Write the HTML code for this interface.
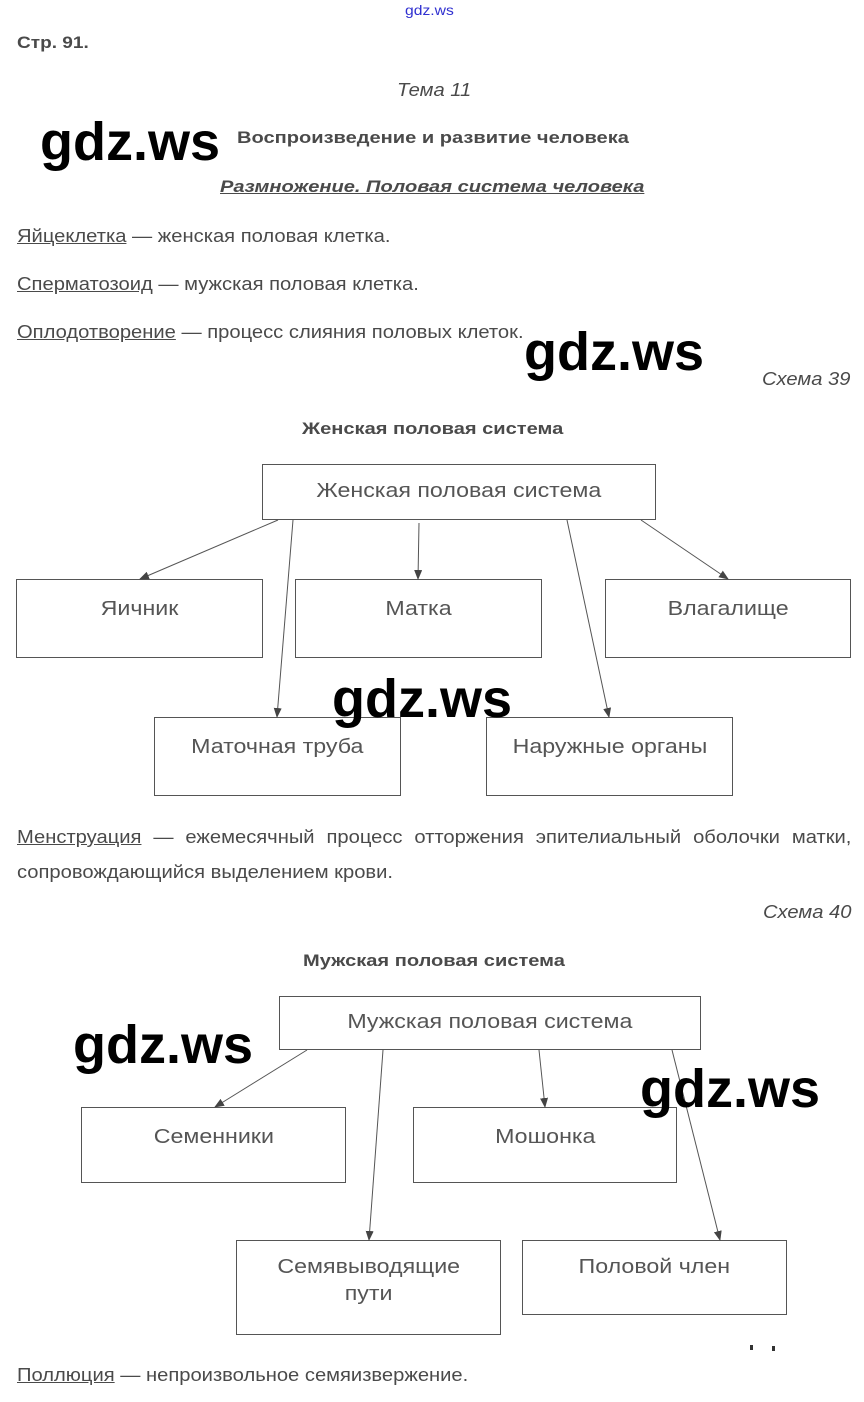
<!DOCTYPE html>
<html><head><meta charset="utf-8"><style>
body{margin:0;width:864px;height:1402px;background:#fff;position:relative;font-family:"Liberation Sans",sans-serif;color:#4a4a4a;overflow:hidden}
.t{position:absolute;white-space:nowrap;font-size:18px;transform:scaleX(1.12);transform-origin:0 0}
.b{transform:scaleX(1.18)}
u{text-decoration:underline}
.wm{position:absolute;font-family:"Liberation Sans",sans-serif;font-size:54px;font-weight:bold;color:#000;line-height:1}
.bx{position:absolute;border:1px solid #555;box-sizing:border-box;text-align:center;font-size:20px;color:#555;padding-top:16px;line-height:27px}
.bx span{display:inline-block;transform:scaleX(1.16)}
</style></head><body>
<div class="t" style="left:405px;top:2px;font-size:14px;color:#3030d0">gdz.ws</div>
<div class="t" style="left:17px;top:33px;font-weight:bold;font-size:17px">Стр. 91.</div>
<div class="t" style="left:397px;top:80px;font-style:italic">Тема 11</div>
<div class="t b" style="left:237px;top:128px;font-weight:bold;font-size:17px">Воспроизведение и развитие человека</div>
<div class="t b" style="left:220px;top:177px;font-weight:bold;font-style:italic;font-size:17px"><u>Размножение. Половая система человека</u></div>
<div class="t" style="left:17px;top:226px"><u>Яйцеклетка</u> — женская половая клетка.</div>
<div class="t" style="left:17px;top:274px"><u>Сперматозоид</u> — мужская половая клетка.</div>
<div class="t" style="left:17px;top:322px"><u>Оплодотворение</u> — процесс слияния половых клеток.</div>
<div class="t" style="left:762px;top:369px;font-style:italic">Схема 39</div>
<div class="t b" style="left:302px;top:419px;font-weight:bold;font-size:17px">Женская половая система</div>
<div class="t" style="left:17px;top:827px;width:745px;text-align:justify;text-align-last:justify"><u>Менструация</u> — ежемесячный процесс отторжения эпителиальный оболочки матки,</div>
<div class="t" style="left:17px;top:862px">сопровождающийся выделением крови.</div>
<div class="t" style="left:763px;top:902px;font-style:italic">Схема 40</div>
<div class="t b" style="left:303px;top:951px;font-weight:bold;font-size:17px">Мужская половая система</div>
<div class="t" style="left:17px;top:1365px"><u>Поллюция</u> — непроизвольное семяизвержение.</div>

<div class="bx" style="left:262px;top:464px;width:394px;height:56px;padding-top:13px"><span>Женская половая система</span></div>
<div class="bx" style="left:16px;top:579px;width:247px;height:79px"><span>Яичник</span></div>
<div class="bx" style="left:295px;top:579px;width:247px;height:79px"><span>Матка</span></div>
<div class="bx" style="left:605px;top:579px;width:246px;height:79px"><span>Влагалище</span></div>
<div class="bx" style="left:154px;top:717px;width:247px;height:79px"><span>Маточная труба</span></div>
<div class="bx" style="left:486px;top:717px;width:247px;height:79px"><span>Наружные органы</span></div>

<div class="bx" style="left:279px;top:996px;width:422px;height:54px;padding-top:12px"><span>Мужская половая система</span></div>
<div class="bx" style="left:81px;top:1107px;width:265px;height:76px"><span>Семенники</span></div>
<div class="bx" style="left:413px;top:1107px;width:264px;height:76px"><span>Мошонка</span></div>
<div class="bx" style="left:236px;top:1240px;width:265px;height:95px;padding-top:13px"><span>Семявыводящие</span><br><span>пути</span></div>
<div class="bx" style="left:522px;top:1240px;width:265px;height:75px;padding-top:13px"><span>Половой член</span></div>

<svg width="864" height="1402" style="position:absolute;left:0;top:0">
<defs><marker id="a" markerWidth="10" markerHeight="8" refX="9" refY="4" orient="auto" markerUnits="userSpaceOnUse"><path d="M0,0 L10,4 L0,8z" fill="#444"/></marker></defs>
<g stroke="#555" stroke-width="1" marker-end="url(#a)">
<line x1="278" y1="520" x2="140" y2="579"/>
<line x1="293" y1="520" x2="277" y2="717"/>
<line x1="419" y1="523" x2="418" y2="579"/>
<line x1="567" y1="520" x2="609" y2="717"/>
<line x1="641" y1="520" x2="728" y2="579"/>
<line x1="307" y1="1050" x2="215" y2="1107"/>
<line x1="383" y1="1050" x2="369" y2="1240"/>
<line x1="539" y1="1050" x2="545" y2="1107"/>
<line x1="672" y1="1050" x2="720" y2="1240"/>
</g>
<rect x="750" y="1345" width="3" height="5" fill="#333"/><rect x="772" y="1346" width="3" height="5" fill="#333"/>
</svg>

<div class="wm" style="left:40px;top:115px">gdz.ws</div>
<div class="wm" style="left:524px;top:325px">gdz.ws</div>
<div class="wm" style="left:332px;top:672px">gdz.ws</div>
<div class="wm" style="left:73px;top:1018px">gdz.ws</div>
<div class="wm" style="left:640px;top:1062px">gdz.ws</div>
</body></html>
